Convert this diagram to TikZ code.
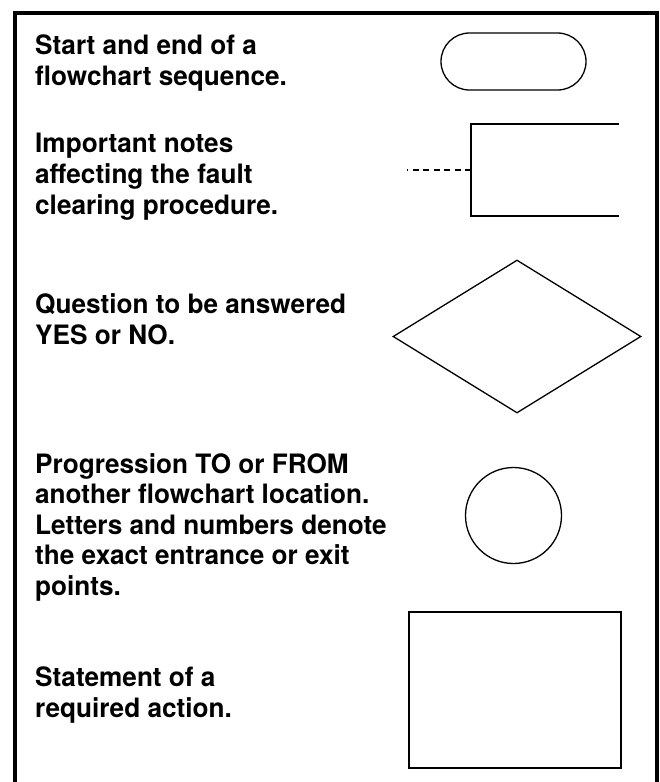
\documentclass[tikz,border=0pt]{standalone}
\usepackage{fontspec}
\setmainfont{TeX Gyre Heros}[FakeStretch=0.98]
\usetikzlibrary{shapes.geometric}
\begin{document}
\begin{tikzpicture}[x=1pt,y=-1pt,
  frameline/.style={line width=4pt,line join=miter},
  shapeline/.style={draw,line width=1.3pt,inner sep=0pt},
  desc/.style={anchor=base west,inner sep=0pt,
    font={\fontsize{26.7}{31}\selectfont\bfseries}}]
\useasboundingbox (0,0) rectangle (659,782);
\fill[white] (0,0) rectangle (659,782);
% outer frame
\coordinate (fbl) at (15,782);
\coordinate (ftl) at (15,12.5);
\coordinate (ftr) at (657,12.5);
\coordinate (fbr) at (657,782);
\draw[frameline] (fbl) -- (ftl) -- (ftr) -- (fbr);
% texts
\node[desc] (t1a) at (35,54) {Start and end of a};
\node[desc] (t1b) at (35,85) {flowchart sequence.};
\node[desc] (t2a) at (35,152) {Important notes};
\node[desc] (t2b) at (35,183) {affecting the fault};
\node[desc] (t2c) at (35,214) {clearing procedure.};
\node[desc] (t3a) at (35,313) {Question to be answered};
\node[desc] (t3b) at (35,344) {YES or NO.};
\node[desc] (t4a) at (35,473) {Progression TO or FROM};
\node[desc] (t4b) at (35,503.5) {another flowchart location.};
\node[desc] (t4c) at (35,534) {Letters and numbers denote};
\node[desc] (t4d) at (35,564.5) {the exact entrance or exit};
\node[desc] (t4e) at (35,595) {points.};
\node[desc] (t5a) at (35,686) {Statement of a};
\node[desc] (t5b) at (35,717) {required action.};
% terminator
\node[shapeline,minimum width=145pt,minimum height=57pt,rounded corners=28.5pt] (term) at (513.5,61.5) {};
% note bracket
\coordinate (ntr) at (619,124);
\coordinate (ntl) at (471,124);
\coordinate (nbl) at (471,216);
\coordinate (nbr) at (619,216);
\coordinate (nmid) at (471,170);
\coordinate (nend) at (407,170);
\draw[line width=1.3pt] (ntr) -- (ntl) -- (nbl) -- (nbr);
\draw[line width=1.3pt,dash pattern=on 6pt off 4.5pt] (nmid) -- (nend);
% decision
\node[shapeline,diamond,minimum width=248pt,minimum height=153pt] (dec) at (517,336.5) {};
% connector
\node[shapeline,circle,minimum size=96pt] (conn) at (513.5,515.5) {};
% action
\node[shapeline,rectangle,minimum width=212pt,minimum height=156pt] (act) at (515,690) {};
\end{tikzpicture}
\end{document}
